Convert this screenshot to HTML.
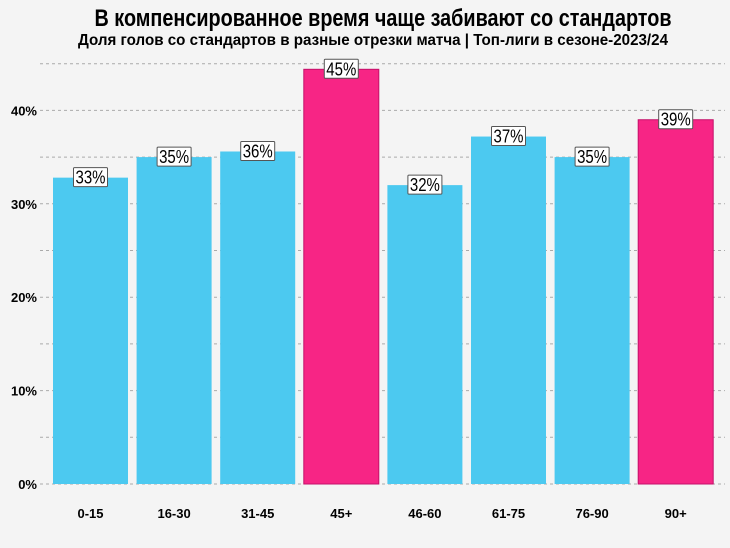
<!DOCTYPE html>
<html><head><meta charset="utf-8"><style>
body{margin:0;background:#f4f4f4;}
svg{display:block;font-family:"Liberation Sans Narrow","Liberation Sans",sans-serif;}
</style></head><body>
<svg id="chart" width="730" height="548">
<rect width="730" height="548" fill="#f4f4f4"/>
<text x="383" y="26" text-anchor="middle" font-size="24" font-weight="bold" textLength="577" lengthAdjust="spacingAndGlyphs">В компенсированное время чаще забивают со стандартов</text>
<text x="373" y="45" text-anchor="middle" font-size="16" font-weight="bold" textLength="590" lengthAdjust="spacingAndGlyphs">Доля голов со стандартов в разные отрезки матча | Топ-лиги в сезоне-2023/24</text>
<g id="grid"></g><g id="bars"></g><g id="labels"></g>
</svg>
<script>
const categories=["0-15","16-30","31-45","45+","46-60","61-75","76-90","90+"];
const values=[32.8,35.0,35.6,44.4,32.0,37.2,35.0,39.0];
const labels=["33%","35%","36%","45%","32%","37%","35%","39%"];
const highlight=[false,false,false,true,false,false,false,true];
const yTicks=[0,10,20,30,40];
const NS="http://www.w3.org/2000/svg";
const y=v=>484-v*9.34;
const x=i=>53+i*83.6;
const bw=75;
function mk(t,a,p){const e=document.createElementNS(NS,t);for(const k in a)e.setAttribute(k,a[k]);p.appendChild(e);return e;}
const grid=document.getElementById('grid'),bars=document.getElementById('bars'),lab=document.getElementById('labels');
for(let v=0;v<=45;v+=5){
 const l=mk('line',{x1:40,x2:725,y1:y(v),y2:y(v),stroke:'#aaa','stroke-dasharray':'3,3','stroke-width':1},grid);
 
 
}
yTicks.forEach(v=>{
 const t=mk('text',{x:37,y:y(v)+5,'text-anchor':'end','font-size':13,'font-weight':'bold'},grid);
 t.textContent=v+'%';
 
 
});
values.forEach((v,i)=>{
 const r=mk('rect',{x:x(i),y:y(v),width:bw,height:y(0)-y(v),fill:highlight[i]?'#f72585':'#4cc9f0',stroke:highlight[i]?'#c4106a':'none'},bars);
 
 
 const c=x(i)+bw/2;
 const b=mk('rect',{x:c-17,y:y(v)-10,width:34,height:19,fill:'#fff',stroke:'#555','stroke-width':1,rx:1},lab);
 
 
 const t=mk('text',{x:c,y:y(v)+6,'text-anchor':'middle','font-size':18,textLength:30,lengthAdjust:'spacingAndGlyphs'},lab);
 t.textContent=labels[i];
 
 
 const ct=mk('text',{x:c,y:518,'text-anchor':'middle','font-size':13,'font-weight':'bold'},lab);
 ct.textContent=categories[i];
 
 
});
</script>
</body></html>
